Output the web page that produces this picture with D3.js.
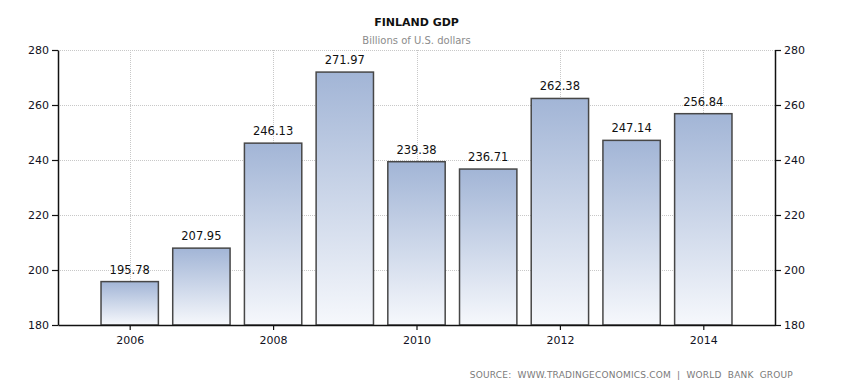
<!DOCTYPE html>
<html>
<head>
<meta charset="utf-8">
<script src="https://cdn.jsdelivr.net/npm/d3@7"></script>
<style>
  body { margin: 0; background: #fff; }
  svg { display: block; font-family: "DejaVu Sans", Verdana, sans-serif; }
</style>
</head>
<body>
<svg id="chart" width="866" height="388"></svg>
<script>
// data
const years = [2006, 2007, 2008, 2009, 2010, 2011, 2012, 2013, 2014];
const gdp = [195.78, 207.95, 246.13, 271.97, 239.38, 236.71, 262.38, 247.14, 256.84];
const yTicks = [180, 200, 220, 240, 260, 280];
const xTicks = [2006, 2008, 2010, 2012, 2014];

const svg = d3.select("#chart");
const mLeft = 58, mRight = 775, mTop = 50, mBottom = 325;

const x = d3.scaleLinear().domain([2005, 2015]).range([mLeft, mRight]);
const y = d3.scaleLinear().domain([180, 280]).range([mBottom, mTop]);
const barW = (x(2006) - x(2005)) * 0.8;

// gradient for bars
const grad = svg.append("defs").append("linearGradient")
    .attr("id", "barGrad").attr("x1", 0).attr("y1", 0).attr("x2", 0).attr("y2", 1);
grad.append("stop").attr("offset", "0%").attr("stop-color", "#a2b5d6");
grad.append("stop").attr("offset", "100%").attr("stop-color", "#f6f8fc");

// grid
svg.append("g").selectAll("line").data(yTicks.slice(1)).join("line")
    .attr("x1", mLeft).attr("x2", mRight)
    .attr("y1", d => y(d) + 0.5).attr("y2", d => y(d) + 0.5)
    .attr("stroke", "#c8c8c8").attr("stroke-dasharray", "1,1");
svg.append("g").selectAll("line").data(xTicks).join("line")
    .attr("x1", d => Math.round(x(d)) + 0.5).attr("x2", d => Math.round(x(d)) + 0.5)
    .attr("y1", mTop).attr("y2", mBottom)
    .attr("stroke", "#c8c8c8").attr("stroke-dasharray", "1,1");

// bars
svg.append("g").selectAll("rect").data(years).join("rect")
    .attr("x", (d) => x(d) - barW / 2)
    .attr("y", (d, i) => y(gdp[i]))
    .attr("width", barW)
    .attr("height", (d, i) => mBottom - y(gdp[i]))
    .attr("fill", "url(#barGrad)")
    .attr("stroke", "#474747").attr("stroke-width", 1.5);

// value labels
svg.append("g").selectAll("text").data(years).join("text")
    .attr("x", d => x(d))
    .attr("y", (d, i) => y(gdp[i]) - 8)
    .attr("text-anchor", "middle")
    .attr("font-size", 11.5).attr("fill", "#111")
    .text((d, i) => gdp[i].toFixed(2));

// axes
const axisStyle = g => {
  g.select(".domain").attr("stroke", "#111").attr("stroke-width", 1.5);
  g.selectAll(".tick line").attr("stroke", "#111").attr("stroke-width", 1.2);
  g.selectAll(".tick text").attr("font-size", 11).attr("fill", "#111122")
      .attr("font-family", "DejaVu Sans, Verdana, sans-serif");
};

svg.append("g").attr("transform", `translate(${mLeft},0)`)
    .call(d3.axisLeft(y).tickValues(yTicks).tickSize(6).tickSizeOuter(0).tickPadding(3))
    .call(axisStyle);
svg.append("g").attr("transform", `translate(${mRight},0)`)
    .call(d3.axisRight(y).tickValues(yTicks).tickSize(6).tickSizeOuter(0).tickPadding(3))
    .call(axisStyle);
svg.append("g").attr("transform", `translate(0,${mBottom})`)
    .call(d3.axisBottom(x).tickValues(xTicks).tickFormat(d3.format("d")).tickSize(5).tickSizeOuter(0).tickPadding(6))
    .call(axisStyle);

// titles
svg.append("text").attr("x", (mLeft + mRight) / 2).attr("y", 26)
    .attr("text-anchor", "middle").attr("font-size", 11).attr("font-weight", "bold")
    .attr("fill", "#111").text("FINLAND GDP");
svg.append("text").attr("x", (mLeft + mRight) / 2).attr("y", 44)
    .attr("text-anchor", "middle").attr("font-size", 10).attr("fill", "#8c8c8c")
    .text("Billions of U.S. dollars");
svg.append("text").attr("x", 793).attr("y", 378)
    .attr("text-anchor", "end").attr("font-size", 9).attr("fill", "#7a7a7a")
    .attr("letter-spacing", 0.2)
    .style("white-space", "pre")
    .text("SOURCE:  WWW.TRADINGECONOMICS.COM  |  WORLD  BANK  GROUP");
</script>
</body>
</html>
